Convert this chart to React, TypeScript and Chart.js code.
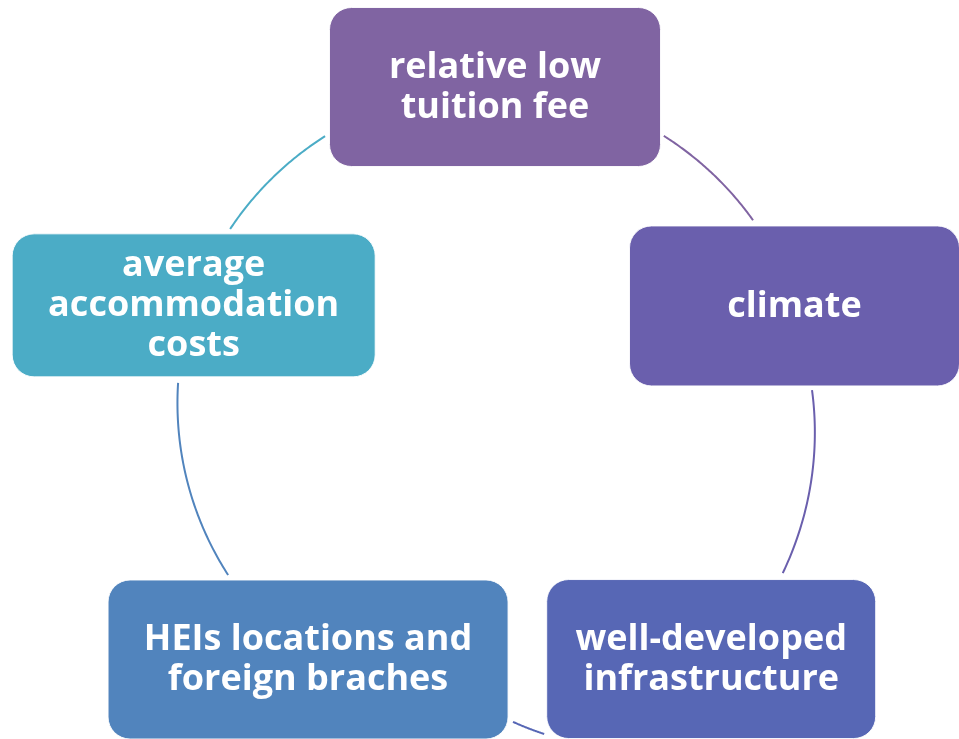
import React, { useEffect, useRef } from 'react';
import { Chart, registerables } from 'chart.js';

Chart.register(...registerables);

// ---- data ----
const nodeLabels: string[][] = [
  ['relative low', 'tuition fee'],
  ['climate'],
  ['well-developed', 'infrastructure'],
  ['HEIs locations and', 'foreign braches'],
  ['average', 'accommodation', 'costs'],
];
const nodeColors = ['#8064A2', '#6A5FAD', '#5767B5', '#5184BD', '#4BACC6'];

// ---- layout (polar positions on the cycle, radius in units of the cycle radius) ----
const nodeAngles = [90, 18.3, -49.6, -126.3, 161.7];
const nodeRadii = [1.0, 0.992, 1.049, 0.993, 0.998];
const nodeWidths = [331, 330, 329, 400, 363];
const nodeHeights = [159, 160, 159, 159, 143];
// connectors: [startAngle, startR, endAngle, endR]
const connectors: number[][] = [
  [57.9, 0.999, 35.6, 0.998],
  [2.7, 0.998, -30.3, 1.048],
  [-81.5, 1.046, -86.75, 0.998],
  [212.5, 0.995, 176.0, 0.999],
  [146.4, 1.0, 122.3, 1.0],
];

const W = 959;
const H = 739;
const CX = 495;
const CY = 405;
const R = 318;

const rad = (d: number) => (d * Math.PI) / 180;

const nodePoints = nodeAngles.map((a, i) => ({
  x: nodeRadii[i] * Math.cos(rad(a)),
  y: nodeRadii[i] * Math.sin(rad(a)),
}));

function roundRect(ctx: CanvasRenderingContext2D, x: number, y: number, w: number, h: number, r: number) {
  ctx.beginPath();
  ctx.moveTo(x + r, y);
  ctx.lineTo(x + w - r, y);
  ctx.arcTo(x + w, y, x + w, y + r, r);
  ctx.lineTo(x + w, y + h - r);
  ctx.arcTo(x + w, y + h, x + w - r, y + h, r);
  ctx.lineTo(x + r, y + h);
  ctx.arcTo(x, y + h, x, y + h - r, r);
  ctx.lineTo(x, y + r);
  ctx.arcTo(x, y, x + r, y, r);
  ctx.closePath();
}

const cyclePlugin = {
  id: 'cycle',
  beforeDatasetsDraw(chart: any) {
    const ctx: CanvasRenderingContext2D = chart.ctx;
    const xs = chart.scales.x;
    const ys = chart.scales.y;
    ctx.save();
    ctx.lineWidth = 2;
    ctx.lineCap = 'butt';
    connectors.forEach((c, i) => {
      const [a0, r0, a1, r1] = c;
      ctx.strokeStyle = nodeColors[i];
      ctx.beginPath();
      const steps = 60;
      for (let s = 0; s <= steps; s++) {
        const t = s / steps;
        const a = rad(a0 + (a1 - a0) * t);
        const r = r0 + (r1 - r0) * t;
        const px = xs.getPixelForValue(r * Math.cos(a));
        const py = ys.getPixelForValue(r * Math.sin(a));
        if (s === 0) ctx.moveTo(px, py);
        else ctx.lineTo(px, py);
      }
      ctx.stroke();
    });
    ctx.restore();
  },
  afterDatasetsDraw(chart: any) {
    const ctx: CanvasRenderingContext2D = chart.ctx;
    const meta = chart.getDatasetMeta(0);
    ctx.save();
    meta.data.forEach((el: any, i: number) => {
      const w = nodeWidths[i];
      const h = nodeHeights[i];
      const x = el.x - w / 2;
      const y = el.y - h / 2;
      ctx.fillStyle = nodeColors[i];
      roundRect(ctx, x, y, w, h, 22);
      ctx.fill();
      ctx.strokeStyle = 'rgba(255,255,255,0.9)';
      ctx.lineWidth = 1;
      ctx.stroke();
      const lines = nodeLabels[i];
      ctx.fillStyle = '#ffffff';
      ctx.font = 'bold 36px "Open Sans", sans-serif';
      ctx.textAlign = 'center';
      ctx.textBaseline = 'alphabetic';
      const lh = 40;
      lines.forEach((ln, k) => {
        const by = el.y + (k - (lines.length - 1) / 2) * lh + 11;
        ctx.fillText(ln, el.x, by);
      });
    });
    ctx.restore();
  },
};

export default function App() {
  const ref = useRef<HTMLCanvasElement | null>(null);
  useEffect(() => {
    document.body.style.margin = '0';
    document.body.style.background = '#ffffff';
    if (!ref.current) return;
    const chart = new Chart(ref.current, {
      type: 'scatter',
      data: {
        datasets: [
          {
            data: nodePoints,
            pointRadius: 0,
            pointHoverRadius: 0,
            showLine: false,
          },
        ],
      },
      options: {
        animation: false,
        responsive: false,
        maintainAspectRatio: false,
        events: [],
        layout: { padding: 0 },
        plugins: { legend: { display: false }, tooltip: { enabled: false }, title: { display: false } },
        scales: {
          x: { type: 'linear', display: false, min: -CX / R, max: (W - CX) / R },
          y: { type: 'linear', display: false, min: -(H - CY) / R, max: CY / R },
        },
      },
      plugins: [cyclePlugin],
    });
    return () => chart.destroy();
  }, []);
  return (
    <div style={{ position: 'fixed', left: 0, top: 0, width: W, height: H, background: '#fff' }}>
      <canvas ref={ref} width={W} height={H} style={{ width: W, height: H, display: 'block' }} />
    </div>
  );
}
